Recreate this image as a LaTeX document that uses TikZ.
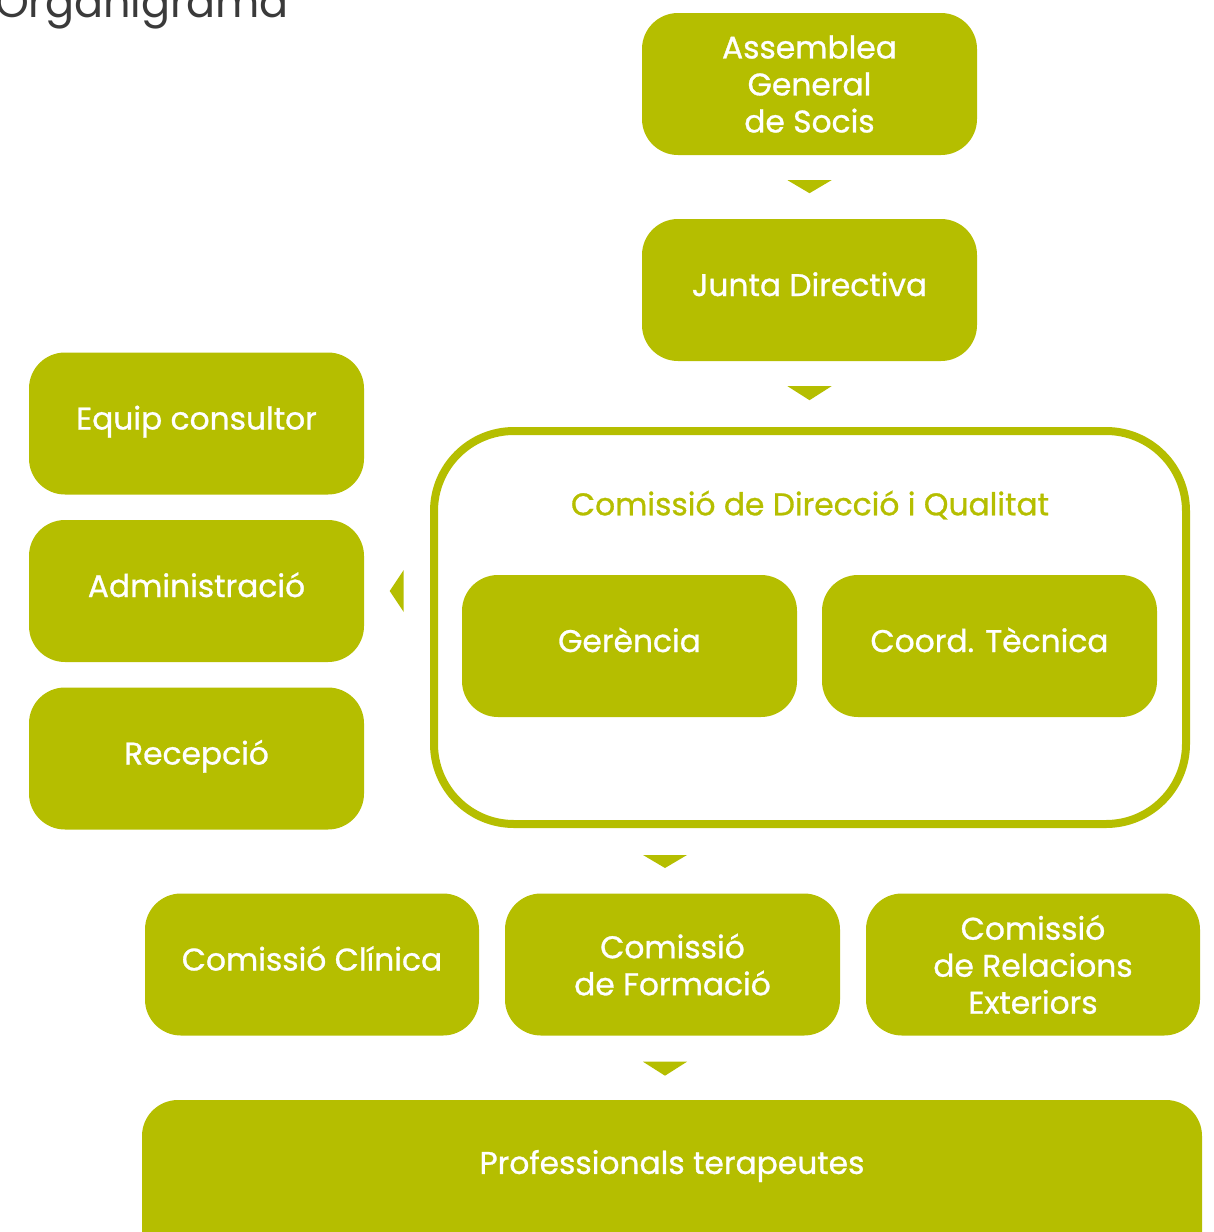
\documentclass[tikz,border=0pt]{standalone}
\usepackage{fontspec}
\setmainfont{Poppins}
\newfontfamily\boxfont{Poppins}[FakeBold=0.9]
\usetikzlibrary{calc}
\definecolor{lime}{HTML}{B5BE00}
\definecolor{titlegray}{HTML}{3A3A3A}
\tikzset{
  boxtext/.style={font=\boxfont\fontsize{31.3}{37}\selectfont, inner sep=0pt},
  box/.style={boxtext, fill=lime, rounded corners=36pt, minimum width=335pt, minimum height=142pt,
    text=white, align=center},
  oneline/.style={text height=24pt, text depth=12pt},
  tri/.style={fill=lime}
}
\begin{document}
\begin{tikzpicture}[x=1pt,y=-1pt]
\useasboundingbox (0,0) rectangle (1214,1232);
\clip (0,0) rectangle (1214,1232);
% title
\node[anchor=base west, inner sep=0pt, text=titlegray, font=\fontsize{43}{50}\selectfont] (title) at (-5,17) {Organigrama};
% top boxes
\node[box] (asm) at (809.5,84) {Assemblea\\General\\de Socis};
\node[box, oneline] (junta) at (809.5,290) {Junta Directiva};
% commission frame
\draw[lime, line width=8pt, rounded corners=80pt] (434,431) rectangle (1186,824);
\node[boxtext, text=lime] (cdq) at (810,505) {Comissió de Direcció i Qualitat};
\node[box, oneline] (ger) at (629.5,646) {Gerència};
\node[box, oneline] (coord) at (989.5,646) {Coord. Tècnica};
% left boxes
\node[box, oneline] (equip) at (196.5,423.5) {Equip consultor};
\node[box, oneline] (admin) at (196.5,591) {Administració};
\node[box, oneline] (recep) at (196.5,758.5) {Recepció};
% bottom row
\node[box, oneline, minimum width=334pt] (clin) at (312,964.5) {Comissió Clínica};
\node[box] (form) at (672.5,964.5) {Comissió\\de Formació};
\node[box, minimum width=334pt] (rel) at (1033,964.5) {Comissió\\de Relacions\\Exteriors};
% professionals
\fill[lime, rounded corners=36pt] (142,1100) rectangle (1202,1320);
\node[boxtext, text=white] (prof) at (672,1166) {Professionals terapeutes};
% arrows
\fill[tri] ($(asm.south)+(-22,25)$) -- ($(asm.south)+(22,25)$) -- ($(asm.south)+(0,38)$) -- cycle;
\fill[tri] ($(junta.south)+(-22,25)$) -- ($(junta.south)+(22,25)$) -- ($(junta.south)+(0,39)$) -- cycle;
\fill[tri] (643,855) -- (687,855) -- (665,868) -- cycle;
\fill[tri] ($(form.south)+(-29.5,26)$) -- ($(form.south)+(14.5,26)$) -- ($(form.south)+(-7.5,40)$) -- cycle;
\fill[tri] ($(admin.east)+(39.5,-21)$) -- ($(admin.east)+(39.5,21)$) -- ($(admin.east)+(25.5,0)$) -- cycle;
\end{tikzpicture}
\end{document}
